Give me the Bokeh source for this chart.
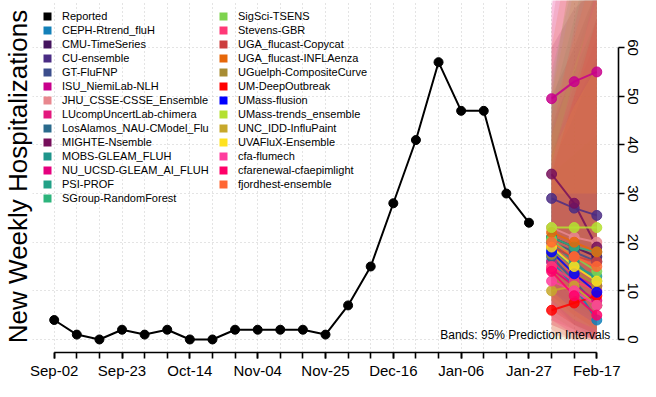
import pandas as pd
from bokeh.plotting import figure
from bokeh.models import (FixedTicker, DatetimeTickFormatter, Legend, LegendItem,
                          Title, Label, Range1d)
from bokeh.embed import file_html
from bokeh.resources import INLINE

# ---------------- data ----------------
reported_start = "2023-09-02"
reported = [4, 1, 0, 2, 1, 2, 0, 0, 2, 2, 2, 2, 1, 7, 15, 28, 41, 57, 47, 47, 30, 24]
forecast_dates = ["2024-02-03", "2024-02-10", "2024-02-17"]
tick_dates = ["2023-09-02", "2023-09-23", "2023-10-14", "2023-11-04", "2023-11-25",
              "2023-12-16", "2024-01-06", "2024-01-27", "2024-02-17"]

models = ["CEPH-Rtrend_fluH", "CMU-TimeSeries", "CU-ensemble", "GT-FluFNP",
          "ISU_NiemiLab-NLH", "JHU_CSSE-CSSE_Ensemble", "LUcompUncertLab-chimera",
          "LosAlamos_NAU-CModel_Flu", "MIGHTE-Nsemble", "MOBS-GLEAM_FLUH",
          "NU_UCSD-GLEAM_AI_FLUH", "PSI-PROF", "SGroup-RandomForest", "SigSci-TSENS",
          "Stevens-GBR", "UGA_flucast-Copycat", "UGA_flucast-INFLAenza",
          "UGuelph-CompositeCurve", "UM-DeepOutbreak", "UMass-flusion",
          "UMass-trends_ensemble", "UNC_IDD-InfluPaint", "UVAFluX-Ensemble",
          "cfa-flumech", "cfarenewal-cfaepimlight", "fjordhest-ensemble"]
colors = ["#1380B8", "#44145E", "#4A2C84", "#3C4E8C", "#C8008C", "#E8878E", "#E3187D",
          "#2A6A8C", "#760F5B", "#1F958B", "#E5007E", "#22A187", "#2DB47C", "#7ED34F",
          "#FF3877", "#CC3D3D", "#E6670A", "#A88C33", "#FF0000", "#0000FF", "#B4E030",
          "#C7A82B", "#FFE21F", "#FF3D9E", "#FF0068", "#FF6633"]

# medians for the three forecast weeks
med_h1 = [16, 21, 29, 20, 49.5, 23, 16, 17, 34, 20, 14.5, 18.5, 21, 20.5, 15, 19, 22, 17.5, 6, 18, 23, 10, 19, 12, 14, 20]
med_h2 = [11, 19, 27, 18, 53, 21, 13, 12, 28, 16, 11, 15, 19, 17, 12, 17, 20, 14, 7.5, 13.5, 23, 11, 15, 10, 9, 17]
med_h3 = [4, 17, 25.5, 16, 55, 20, 11, 7, 19, 12, 8, 13, 18, 14, 10, 16, 18, 11, 9, 9.7, 23, 7, 12, 7, 5, 15]
# 95% prediction interval bounds
lo_h1 = [8, 12, 16, 10, 28, 10, 6, 7, 15, 9, 4, 8, 9, 5, 3, 2, 6, 3, 1, 10, 12, 0, 8, 3, 4, 8]
lo_h2 = [3, 9, 12, 7, 25, 7, 3, 3, 9, 5, 2, 4, 6, 2, 1, 0, 3, 1, 0, 6, 9, 0, 4, 1, 1, 5]
lo_h3 = [0, 6, 8, 4, 22, 5, 1, 1, 4, 2, 0, 2, 4, 0, 0, 0, 1, 0, 0, 3, 6, 0, 2, 0, 0, 2]
hi_h1 = [30, 34, 50, 38, 74, 42, 38, 36, 60, 44, 38, 48, 55, 52, 42, 64, 60, 50, 34, 30, 42, 50, 38, 36, 68, 46]
hi_h2 = [30, 38, 60, 48, 88, 58, 52, 46, 68, 55, 50, 66, 74, 78, 64, 95, 85, 80, 50, 30, 56, 72, 48, 54, 92, 62]
hi_h3 = [30, 42, 72, 58, 100, 72, 66, 58, 72, 66, 62, 84, 92, 96, 84, 115, 105, 100, 66, 30, 70, 92, 56, 72, 115, 78]

# ---------------- helpers ----------------
WEEK = 7 * 24 * 3600 * 1000
NAN = float("nan")


def ms(d):
    return pd.Timestamp(d).value // 10**6


rep_x = [ms(d) for d in pd.date_range(reported_start, periods=len(reported), freq="7D")]
fc_x = [ms(d) for d in forecast_dates]
all_weeks = rep_x + fc_x
major_ticks = [ms(d) for d in tick_dates]

FONT = "Liberation Sans"

p = figure(width=640, height=381, x_axis_type="datetime", y_axis_location="right",
           output_backend="svg", toolbar_location=None, min_border=0,
           x_range=Range1d(all_weeks[0] - 0.96 * WEEK, all_weeks[-1] + 0.96 * WEEK),
           y_range=Range1d(-2.68, 69.68))
p.outline_line_color = None
p.background_fill_color = "white"

# grid
p.xgrid.ticker = FixedTicker(ticks=all_weeks)
p.ygrid.ticker = FixedTicker(ticks=[0, 10, 20, 30, 40, 50, 60])
for g in (p.xgrid, p.ygrid):
    g.grid_line_color = "#c8c8c8"
    g.grid_line_dash = "1 3"
    g.grid_line_width = 1

# x axis
xa = p.xaxis[0]
xa.ticker = FixedTicker(ticks=major_ticks, minor_ticks=all_weeks)
xa.formatter = DatetimeTickFormatter(days="%b-%d", months="%b-%d", years="%b-%d")
xa.bounds = (all_weeks[0], all_weeks[-1])
xa.axis_line_width = 1.6
xa.major_tick_line_width = 1.6
xa.minor_tick_line_width = 1.6
xa.minor_tick_line_color = "black"
xa.major_tick_out = 6
xa.major_tick_in = 0
xa.minor_tick_out = 6
xa.minor_tick_in = 0
xa.major_label_standoff = 3
xa.axis_label_standoff = 0
xa.major_label_text_font = FONT
xa.major_label_text_font_size = "15px"
xa.major_label_text_color = "black"

# y axis (right)
ya = p.yaxis[0]
ya.ticker = FixedTicker(ticks=[0, 10, 20, 30, 40, 50, 60])
ya.bounds = (0, 60)
ya.axis_line_width = 1.6
ya.major_tick_line_width = 1.6
ya.major_tick_out = 6
ya.major_tick_in = 0
ya.minor_tick_out = 0
ya.minor_tick_in = 0
ya.major_label_orientation = "vertical"
ya.major_label_standoff = 3
ya.axis_label_standoff = 0
ya.major_label_text_font = FONT
ya.major_label_text_font_size = "15px"
ya.major_label_text_color = "black"

# y title on the left
p.add_layout(Title(text="New Weekly Hospitalizations", align="center", text_font=FONT,
                   text_font_size="26px", text_font_style="normal", text_color="black",
                   standoff=0, offset=0), "left")

# prediction bands
band_xs, band_ys = [], []
for i in range(len(models)):
    band_xs.append(fc_x + fc_x[::-1])
    band_ys.append([lo_h1[i], lo_h2[i], lo_h3[i], hi_h3[i], hi_h2[i], hi_h1[i]])
p.patches(band_xs, band_ys, fill_color=colors, fill_alpha=0.13, line_color=None)

# forecast lines and points
line_xs, line_ys, pt_x, pt_y, pt_c = [], [], [], [], []
for i in range(len(models)):
    ys = [med_h1[i], med_h2[i], med_h3[i]]
    line_xs.append(fc_x)
    line_ys.append(ys)
    pt_x += fc_x
    pt_y += ys
    pt_c += [colors[i]] * 3
p.multi_line(line_xs, line_ys, line_color=colors, line_width=2, line_alpha=0.85)
p.scatter(pt_x, pt_y, size=10, fill_color=pt_c, line_color=pt_c, fill_alpha=0.85, line_alpha=0.85)

# reported
p.line(rep_x, reported, line_color="black", line_width=2)
p.scatter(rep_x, reported, size=9, color="black")

# legend (squares) - renderers hold a single NaN row so nothing is drawn in the plot
items = []
r = p.quad(left=[NAN], right=[NAN], top=[NAN], bottom=[NAN], fill_color="black", line_color=None)
items.append(LegendItem(label="Reported", renderers=[r]))
for name, c in zip(models, colors):
    r = p.quad(left=[NAN], right=[NAN], top=[NAN], bottom=[NAN], fill_color=c, line_color=None)
    items.append(LegendItem(label=name, renderers=[r]))

legend = Legend(items=items, ncols=2, location="top_left", margin=10, padding=4,
                spacing=2, glyph_width=10, glyph_height=10, label_standoff=10,
                label_width=154, label_height=12,
                label_text_font=FONT, label_text_font_size="11px",
                label_text_color="black", background_fill_alpha=0,
                border_line_color=None)
p.add_layout(legend)

# band note
p.add_layout(Label(x=all_weeks[-1] + 0.6 * WEEK, y=0.9,
                   text="Bands: 95% Prediction Intervals", text_align="right",
                   text_baseline="middle", text_font=FONT, text_font_size="12px",
                   text_color="black"))

open("out.html", "w").write(file_html(p, INLINE))
